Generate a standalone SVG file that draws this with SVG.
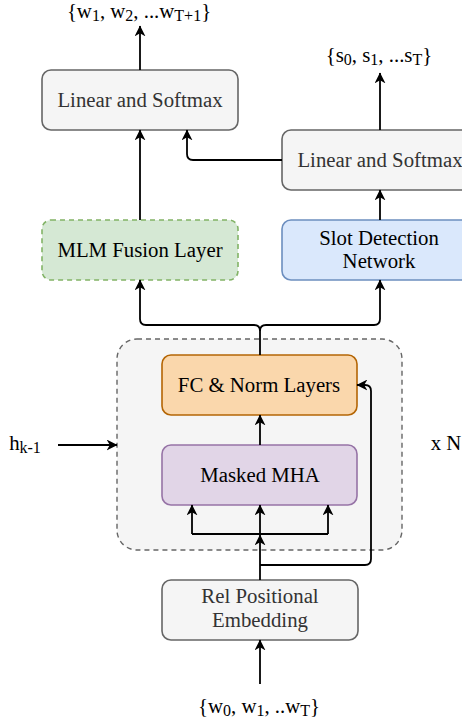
<svg xmlns="http://www.w3.org/2000/svg" width="462" height="724" viewBox="0 0 462 724">
<defs>
<marker id="arr" viewBox="0 0 10 10" refX="9.5" refY="5" markerWidth="11" markerHeight="11" markerUnits="userSpaceOnUse" orient="auto">
<path d="M0,0 L10,5 L0,10 L3,5 z" fill="#000"/>
</marker>
<style>
text{font-family:"Liberation Serif","Times New Roman",serif;font-size:20.8px;text-anchor:middle;fill:#000}
.g text,.gt{fill:#333}
.sub{font-size:16px}
.box{stroke-width:1.6}
.grey{fill:#f5f5f5;stroke:#666}
.c path,.c line{fill:none;stroke:#000;stroke-width:1.8;marker-end:url(#arr)}
.c .nm{marker-end:none}
</style>
</defs>
<g id="container">
<rect x="117" y="339" width="285" height="211" rx="20" fill="#f5f5f5" stroke="#666" stroke-width="1.4" stroke-dasharray="5 4"/>
</g>
<g id="linear-top" class="g">
<rect class="box grey" x="42" y="70" width="196" height="60" rx="9"/>
<text x="140" y="107">Linear and Softmax</text>
</g>
<g id="linear-right" class="g">
<rect class="box grey" x="282" y="130" width="196" height="60" rx="9"/>
<text x="380" y="167">Linear and Softmax</text>
</g>
<g id="mlm">
<rect class="box" x="42" y="220" width="196" height="60" rx="9" fill="#d5e8d4" stroke="#82b366" stroke-dasharray="5 4"/>
<text x="140" y="257">MLM Fusion Layer</text>
</g>
<g id="slot">
<rect class="box" x="282" y="220" width="196" height="60" rx="9" fill="#dae8fc" stroke="#6c8ebf"/>
<text x="379" y="245">Slot Detection</text>
<text x="379" y="268">Network</text>
</g>
<g id="fc">
<rect class="box" x="162" y="355" width="195" height="60" rx="9" fill="#fad7ac" stroke="#b46504"/>
<text x="259" y="392">FC &amp; Norm Layers</text>
</g>
<g id="mha">
<rect class="box" x="162" y="445" width="195" height="60" rx="9" fill="#e1d5e7" stroke="#9673a6"/>
<text x="260" y="482">Masked MHA</text>
</g>
<g id="relpos" class="g">
<rect class="box grey" x="162" y="580" width="196" height="60" rx="9"/>
<text x="260" y="603">Rel Positional</text>
<text x="260" y="627">Embedding</text>
</g>
<g id="out-words"><text x="139" y="18">{w<tspan class="sub" dy="3">1</tspan><tspan dy="-3">, w</tspan><tspan class="sub" dy="3">2</tspan><tspan dy="-3">, ...w</tspan><tspan class="sub" dy="3">T+1</tspan><tspan dy="-3">}</tspan></text></g>
<g id="out-slots"><text x="379" y="62">{s<tspan class="sub" dy="3">0</tspan><tspan dy="-3">, s</tspan><tspan class="sub" dy="3">1</tspan><tspan dy="-3">, ...s</tspan><tspan class="sub" dy="3">T</tspan><tspan dy="-3">}</tspan></text></g>
<g id="in-words"><text x="259" y="713">{w<tspan class="sub" dy="3">0</tspan><tspan dy="-3">, w</tspan><tspan class="sub" dy="3">1</tspan><tspan dy="-3">, ..w</tspan><tspan class="sub" dy="3">T</tspan><tspan dy="-3">}</tspan></text></g>
<g id="hk"><text x="25" y="450">h<tspan class="sub" dy="3">k-1</tspan></text></g>
<g id="xn"><text x="446" y="450">x N</text></g>
<g id="connectors" class="c">
<line x1="140" y1="70" x2="140" y2="26"/>
<line x1="380" y1="130" x2="380" y2="73"/>
<path d="M282,160 L193,160 Q187,160 187,154 L187,130"/>
<line x1="140" y1="220" x2="140" y2="130"/>
<line x1="380" y1="220" x2="380" y2="190"/>
<path d="M260,355 L260,331 Q260,325 254,325 L146,325 Q140,325 140,319 L140,280"/>
<path d="M260,331 Q260,325 266,325 L374,325 Q380,325 380,319 L380,280"/>
<line x1="260" y1="445" x2="260" y2="415"/>
<line x1="260" y1="580" x2="260" y2="535"/>
<path class="nm" d="M192,534 L328,534"/>
<line x1="192" y1="534" x2="192" y2="505"/>
<line x1="260" y1="534" x2="260" y2="505"/>
<line x1="328" y1="534" x2="328" y2="505"/>
<path d="M260,565 L365,565 Q371,565 371,559 L371,391 Q371,385 365,385 L357,385"/>
<line x1="58" y1="445" x2="117" y2="445"/>
<line x1="260" y1="684" x2="260" y2="640"/>
</g>
</svg>
